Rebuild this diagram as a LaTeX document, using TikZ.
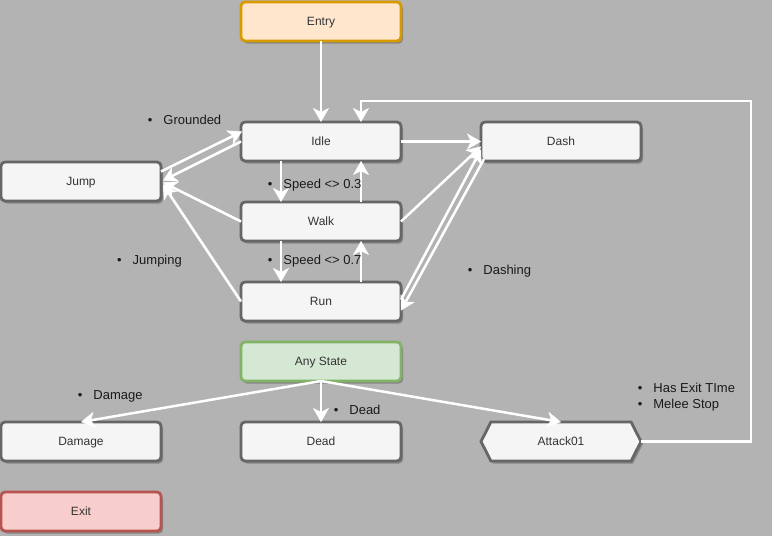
\documentclass[tikz,border=0pt]{standalone}
\usepackage{fontspec}
\setmainfont{Liberation Sans}
\usetikzlibrary{arrows.meta,shapes.symbols,shadows,calc}
\definecolor{bg}{HTML}{B3B3B3}
\definecolor{stroke}{HTML}{666666}
\definecolor{sfill}{HTML}{F5F5F5}
\definecolor{ntxt}{HTML}{333333}
\definecolor{ltxt}{HTML}{1A1A1A}
\definecolor{entryfill}{HTML}{FFE6CC}
\definecolor{entrydraw}{HTML}{D79B00}
\definecolor{anyfill}{HTML}{D5E8D4}
\definecolor{anydraw}{HTML}{82B366}
\definecolor{exitfill}{HTML}{F8CECC}
\definecolor{exitdraw}{HTML}{B85450}
\newcommand\bitem{\makebox[15.5pt][l]{•}}
\begin{document}
\begin{tikzpicture}[x=1pt,y=-1pt,
  state/.style={draw=stroke, fill=sfill, line width=2.8pt, rounded corners=4pt,
    minimum width=160pt, minimum height=39pt, inner sep=0pt, outer sep=0pt,
    font=\fontsize{12}{14}\selectfont, text=ntxt, text depth=0pt, text height=7.5pt,
    drop shadow={shadow xshift=2pt, shadow yshift=-2.5pt, fill=black, opacity=0.25}},
  conn/.style={draw=white, line width=2.5pt, -{Stealth[length=14pt,width=16pt,inset=4pt,line width=0.5pt]}},
  lbl/.style={anchor=base west, inner sep=0pt, font=\fontsize{13}{15.5}\selectfont, text=ltxt}]
\fill[bg] (0,0) rectangle (772,536);
\useasboundingbox (0,0) rectangle (772,536);

% nodes
\node[state, fill=entryfill, draw=entrydraw] (entry) at (321,21.5) {Entry};
\node[state] (idle) at (321,141.5) {Idle};
\node[state] (dash) at (561,141.5) {Dash};
\node[state] (jump) at (81,181.5) {Jump};
\node[state] (walk) at (321,221.5) {Walk};
\node[state] (run) at (321,301.5) {Run};
\node[state, fill=anyfill, draw=anydraw] (any) at (321,361.5) {Any State};
\node[state] (damage) at (81,441.5) {Damage};
\node[state] (dead) at (321,441.5) {Dead};
\node[state, rounded corners=0pt, signal, signal to=west and east, signal pointer angle=126] (attack) at (561,441.5) {Attack01};
\node[state, fill=exitfill, draw=exitdraw] (exit) at (81,511.5) {Exit};

% connectors
\draw[conn] (entry.south) -- (idle.north);
\draw[conn] (attack.east) -| (751,101) -| ($(idle.north)+(40,0)$);
\draw[conn] (idle.east) -- (dash.west);
\draw[conn] ($(idle.south)+(-40,0)$) -- ($(walk.north)+(-40,0)$);
\draw[conn] ($(walk.north)+(40,0)$) -- ($(idle.south)+(40,0)$);
\draw[conn] ($(walk.south)+(-40,0)$) -- ($(run.north)+(-40,0)$);
\draw[conn] ($(run.north)+(40,0)$) -- ($(walk.south)+(40,0)$);
\draw[conn] ($(jump.east)+(0,-10)$) -- ($(idle.west)+(1,-10)$);
\draw[conn] (idle.west) -- ($(jump.east)+(2,-1)$);
\draw[conn] (walk.west) -- ($(jump.east)+(2,1)$);
\draw[conn] (run.west) -- ($(jump.east)+(2,3)$);
\draw[conn] (walk.east) -- ($(dash.west)+(0,5)$);
\draw[conn] ($(run.east)+(0,-2)$) -- ($(dash.west)+(0,8)$);
\draw[conn] ($(dash.south west)+(3,-2)$) -- ($(run.east)+(0,9)$);
\draw[conn] (any.south) -- (damage.north);
\draw[conn] (any.south) -- (dead.north);
\draw[conn] (any.south) -- (attack.north);

% labels
\node[lbl] (lgrounded) at (147.7,124) {\bitem Grounded};
\node[lbl] (lspeed3) at (267.7,188.7) {\bitem Speed <> 0.3};
\node[lbl] (lspeed7) at (267.7,264) {\bitem Speed <> 0.7};
\node[lbl] (ljumping) at (117,264) {\bitem Jumping};
\node[lbl] (ldashing) at (467.7,274) {\bitem Dashing};
\node[lbl] (ldamage) at (77.7,399) {\bitem Damage};
\node[lbl] (ldead) at (333.7,414) {\bitem Dead};
\node[lbl] (lexit) at (637.7,392) {\bitem Has Exit TIme};
\node[lbl] (lmelee) at (637.7,408) {\bitem Melee Stop};
\end{tikzpicture}
\end{document}
